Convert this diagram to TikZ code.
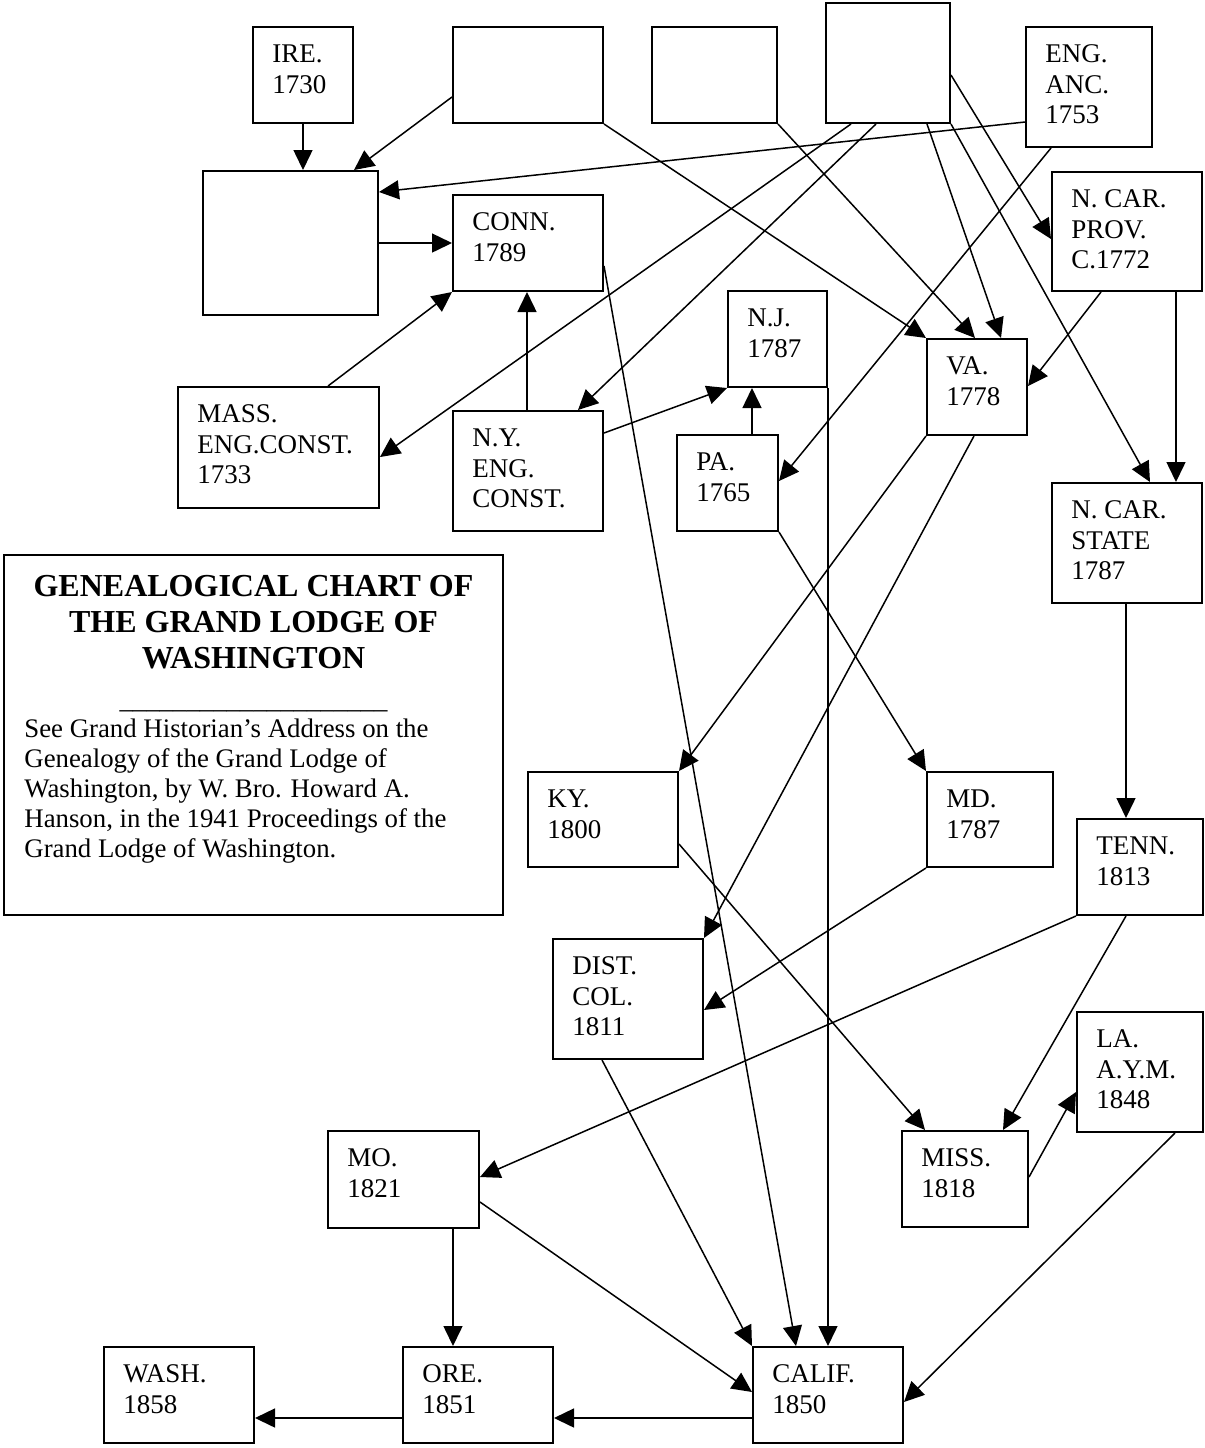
\documentclass[tikz,border=0pt]{standalone}
\usepackage{fontspec}
\setmainfont{Liberation Serif}
\usetikzlibrary{arrows.meta,calc}
\tikzset{
  gbox/.style={draw, line width=1pt, rectangle, inner sep=0pt},
  lbl/.style={inner sep=0pt, align=left, font=\fontsize{13.5}{15.3}\selectfont},
  arr/.style={draw, line width=0.75pt, -{Triangle[length=10pt,width=9.5pt]}}
}
\newcommand\gbx[5]{%
  \node[gbox, minimum width={(#4-#2)*0.5pt}, minimum height={(#5-#3)*0.5pt}] (#1) at ({(#2+#4)/2},{(#3+#5)/2}) {};}
\newcommand\glb[2]{%
  \node[lbl, anchor=north west] (#1t) at ($(#1.north west)+(20,16)$) {\rule{0pt}{10pt}#2};}
\begin{document}
\begin{tikzpicture}[x=0.5pt,y=-0.5pt]
\useasboundingbox (0,0) rectangle (1205,1448);
% boxes
\gbx{ire}{253}{27}{353}{123}\glb{ire}{IRE.\\1730}
\gbx{blanka}{453}{27}{603}{123}
\gbx{blankb}{652}{27}{777}{123}
\gbx{blankc}{826}{3}{950}{123}
\gbx{eng}{1026}{27}{1152}{147}\glb{eng}{ENG.\\ANC.\\1753}
\gbx{blanke}{203}{171}{378}{315}
\gbx{conn}{453}{195}{603}{291}\glb{conn}{CONN.\\1789}
\gbx{ncp}{1052}{172}{1202}{291}\glb{ncp}{N. CAR.\\PROV.\\C.1772}
\gbx{nj}{728}{291}{827}{387}\glb{nj}{N.J.\\1787}
\gbx{va}{927}{339}{1027}{435}\glb{va}{VA.\\1778}
\gbx{mass}{178}{387}{379}{508}\glb{mass}{MASS.\\ENG.CONST.\\1733}
\gbx{ny}{453}{411}{603}{531}\glb{ny}{N.Y.\\ENG.\\CONST.}
\gbx{pa}{677}{435}{778}{531}\glb{pa}{PA.\\1765}
\gbx{ncs}{1052}{483}{1202}{603}\glb{ncs}{N. CAR.\\STATE\\1787}
\gbx{ky}{528}{772}{678}{867}\glb{ky}{KY.\\1800}
\gbx{md}{927}{772}{1053}{867}\glb{md}{MD.\\1787}
\gbx{tenn}{1077}{819}{1203}{915}\glb{tenn}{TENN.\\1813}
\gbx{dist}{553}{939}{703}{1059}\glb{dist}{DIST.\\COL.\\1811}
\gbx{la}{1077}{1012}{1203}{1132}\glb{la}{LA.\\A.Y.M.\\1848}
\gbx{miss}{902}{1131}{1028}{1227}\glb{miss}{MISS.\\1818}
\gbx{mo}{328}{1131}{479}{1228}\glb{mo}{MO.\\1821}
\gbx{wash}{104}{1347}{254}{1443}\glb{wash}{WASH.\\1858}
\gbx{ore}{403}{1347}{553}{1443}\glb{ore}{ORE.\\1851}
\gbx{calif}{753}{1347}{903}{1443}\glb{calif}{CALIF.\\1850}
% title box
\gbx{titlebox}{4}{555}{503}{915}
\node[inner sep=0pt, align=center, anchor=north, font=\fontsize{16}{18}\selectfont\bfseries] (ttl) at ($(titlebox.north)+(0,18)$) {\rule{0pt}{12pt}GENEALOGICAL CHART OF\\THE GRAND LODGE OF\\WASHINGTON};
\node[inner sep=0pt, anchor=base, font=\fontsize{13.4}{15}\selectfont] (uline) at ($(titlebox.north)+(0,154)$) {\_\_\_\_\_\_\_\_\_\_\_\_\_\_\_\_\_\_\_\_};
\node[inner sep=0pt, align=left, anchor=north west, font=\fontsize{13.4}{15}\selectfont] (note) at ($(titlebox.north west)+(21,163)$) {\rule{0pt}{10pt}See Grand Historian’s Address on the\\Genealogy of the Grand Lodge of\\Washington, by W. Bro. Howard A.\\Hanson, in the 1941 Proceedings of the\\Grand Lodge of Washington.};
% connectors
\draw[arr] (ire.south) -- (ire.south |- blanke.north);
\draw[arr] ($(blanka.north west)+(0,71)$) -- ($(blanke.north west)+(152,0)$);
\draw[arr] ($(eng.north west)+(0,96)$) -- ($(blanke.north east)+(0,22)$);
\draw[arr] (blanke.east |- conn.west) -- (conn.west);
\draw[arr] (blanka.south east) -- (va.north west);
\draw[arr] (blankb.south east) -- ($(va.north west)+(49,0)$);
\draw[arr] ($(blankc.south west)+(26,0)$) -- ($(mass.north east)+(0,71)$);
\draw[arr] ($(blankc.south west)+(51,0)$) -- ($(ny.north west)+(126,0)$);
\draw[arr] ($(blankc.south west)+(102,0)$) -- ($(va.north west)+(75,0)$);
\draw[arr] (blankc.south east) -- ($(ncs.north west)+(99,0)$);
\draw[arr] ($(blankc.north east)+(0,73)$) -- ($(ncp.north west)+(0,68)$);
\draw[arr] ($(eng.south west)+(26,0)$) -- ($(pa.north east)+(0,47)$);
\draw[arr] ($(ncp.south west)+(50,0)$) -- ($(va.north east)+(0,48)$);
\draw[arr] ($(ncp.south west)+(125,0)$) coordinate (p14) -- (p14 |- ncs.north);
\draw[arr] ($(mass.north west)+(151,0)$) -- (conn.south west);
\draw[arr] ($(ny.north west)+(75,0)$) coordinate (p16) -- (p16 |- conn.south);
\draw[arr] ($(ny.north east)+(0,23)$) -- (nj.south west);
\draw[arr] ($(pa.north west)+(76,0)$) coordinate (p18) -- (p18 |- nj.south);
\draw[arr] ($(conn.north east)+(0,72)$) -- ($(calif.north west)+(44,0)$);
\draw[arr] (nj.south east) -- (nj.south east |- calif.north);
\draw[arr] (va.south west) -- (ky.north east);
\draw[arr] ($(va.south west)+(48,0)$) -- (dist.north east);
\draw[arr] (pa.south east) -- (md.north west);
\draw[arr] (md.south west) -- ($(dist.north east)+(0,72)$);
\draw[arr] ($(ky.north east)+(0,73)$) -- ($(miss.north west)+(24,0)$);
\draw[arr] ($(tenn.south west)+(50,0)$) -- ($(miss.north west)+(102,0)$);
\draw[arr] (tenn.south west) -- ($(mo.north east)+(0,47)$);
\draw[arr] ($(miss.north east)+(0,47)$) -- ($(la.north west)+(0,81)$);
\draw[arr] ($(ncs.south west)+(75,0)$) coordinate (p29) -- (p29 |- tenn.north);
\draw[arr] ($(dist.south west)+(50,0)$) -- (calif.north west);
\draw[arr] ($(mo.north east)+(0,72)$) -- ($(calif.north west)+(0,46)$);
\draw[arr] ($(la.south west)+(99,0)$) -- ($(calif.north east)+(0,56)$);
\draw[arr] ($(calif.north west)+(0,72)$) coordinate (p33) -- (p33 -| ore.east);
\draw[arr] ($(ore.north west)+(0,72)$) coordinate (p34) -- (p34 -| wash.east);
\draw[arr] ($(mo.south west)+(126,0)$) coordinate (p35) -- (p35 |- ore.north);
\end{tikzpicture}
\end{document}
